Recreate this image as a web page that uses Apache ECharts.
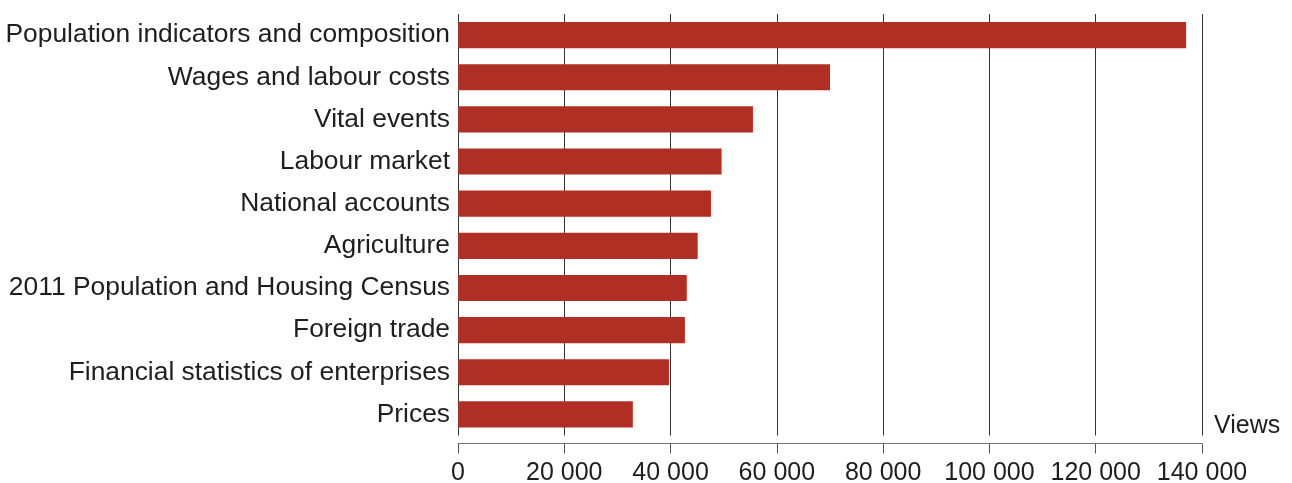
<!DOCTYPE html>
<html>
<head>
<meta charset="utf-8">
<script src="https://cdn.jsdelivr.net/npm/echarts@6/dist/echarts.min.js"></script>
<style>
html, body { margin: 0; padding: 0; background: #fff; }
#chart { width: 1292px; height: 483px; }
</style>
</head>
<body>
<div id="chart"></div>
<script>
// categories, top to bottom
var topics = [
	'Population indicators and composition',
	'Wages and labour costs',
	'Vital events',
	'Labour market',
	'National accounts',
	'Agriculture',
	'2011 Population and Housing Census',
	'Foreign trade',
	'Financial statistics of enterprises',
	'Prices'
];
// page views per topic
var views = [137000, 70000, 55500, 49600, 47600, 45100, 43050, 42700, 39700, 32900];
var tick_values = [0, 20000, 40000, 60000, 80000, 100000, 120000, 140000];

function fmt_thousands(v){
	return String(v).replace(/\B(?=(\d{3})+(?!\d))/g, ' ');
}

var chart = echarts.init(document.getElementById('chart'));
var option = {
	animation: false,
	textStyle: { fontFamily: '"Liberation Sans", Arial, sans-serif' },
	grid: {
		left: 458,
		right: 90,
		top: 14,
		bottom: 47.5,
		containLabel: false,
		outerBoundsMode: 'none'
	},
	xAxis: {
		type: 'value',
		min: tick_values[0],
		max: tick_values[tick_values.length - 1],
		interval: 20000,
		offset: 8,
		name: 'Views',
		nameLocation: 'end',
		nameGap: 12,
		nameTextStyle: {
			color: '#1e1e1e',
			fontSize: 25,
			align: 'left',
			verticalAlign: 'bottom',
			padding: [0, 0, 5, 0]
		},
		axisLine: { show: true, lineStyle: { color: '#777', width: 1 } },
		axisTick: { show: true, length: 10, lineStyle: { color: '#555', width: 1 } },
		axisLabel: {
			color: '#1e1e1e',
			fontSize: 25,
			margin: 17,
			formatter: fmt_thousands
		},
		splitLine: { show: true, lineStyle: { color: '#333', width: 1 } }
	},
	yAxis: {
		type: 'category',
		data: topics,
		inverse: true,
		axisLine: { show: false },
		axisTick: { show: false },
		axisLabel: {
			color: '#1e1e1e',
			fontSize: 26.4,
			margin: 8,
			padding: [6, 0, 0, 0]
		}
	},
	series: [
		{
			name: 'Views',
			type: 'bar',
			data: views,
			barCategoryGap: '38%',
			itemStyle: { color: '#AF2F24' }
		}
	]
};
chart.setOption(option);
</script>
</body>
</html>
